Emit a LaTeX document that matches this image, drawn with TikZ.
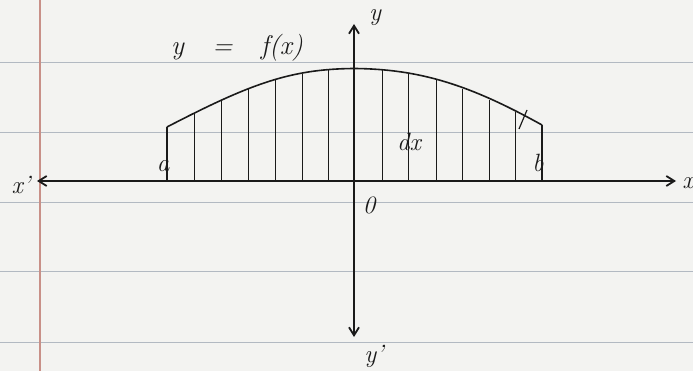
\documentclass[tikz,border=0pt]{standalone}
\usepackage{fontspec}
\usetikzlibrary{arrows.meta}
\definecolor{paper}{HTML}{F3F3F1}
\definecolor{rulecol}{HTML}{B2B9C2}
\definecolor{margincol}{HTML}{C89088}
\definecolor{ink}{HTML}{1A1A1A}
\begin{document}
\begin{tikzpicture}[x=1pt,y=-1pt,
  ruled/.style={rulecol,line width=1pt},
  marginline/.style={margincol,line width=1.2pt},
  axisline/.style={ink,line width=1.8pt,{Straight Barb[length=8pt,width=10pt]}-{Straight Barb[length=8pt,width=10pt]}},
  curveline/.style={ink,line width=1.6pt},
  stripline/.style={ink,line width=1pt},
  edgeline/.style={ink,line width=1.6pt},
  lab/.style={ink,font=\fontsize{25}{28}\selectfont\itshape,inner sep=0pt}]
\useasboundingbox (0,0) rectangle (693,371);
\fill[paper] (0,0) rectangle (693,371);
\foreach \yy in {63,133,203,272,342} \draw[ruled] (0,\yy) -- (693,\yy);
\draw[marginline] (40,0) -- (40,371);
% axes
\coordinate (xleft) at (37,181);
\coordinate (xright) at (676,181);
\coordinate (ytop) at (354,24);
\coordinate (ybot) at (354,337);
% strips
\foreach \x/\y [count=\i] in {167/127,194/113,221/100,248/89,275/80,302/74,328/70,382/70,408/74,436/80,462/89,489/100,515/112,542/125}{
  \coordinate (t\i) at (\x,\y);
  \coordinate (f\i) at (\x,181);
  \draw[stripline] (t\i) -- (f\i);
}
\draw[edgeline] (t1) -- (f1);
\draw[edgeline] (t14) -- (f14);
\draw[curveline] (167,127) .. controls (250,84) and (290,69) .. (354,68.5) .. controls (420,69) and (470,85) .. (542,125);
\draw[axisline] (xleft) -- (xright);
\draw[axisline] (ybot) -- (ytop);
% small tick mark
\coordinate (m1) at (519,129);
\coordinate (m2) at (527,110);
\draw[ink,line width=1.2pt] (m1) -- (m2);
% labels
\node[lab] (xp) at (21,185) {x'};
\node[lab] (xq) at (688,183) {x};
\node[lab] (yl) at (375,18) {y};
\node[lab] (yp) at (374,356) {y'};
\node[lab] (o) at (369,205) {0};
\node[lab] (a) at (163,166) {a};
\node[lab] (b) at (538,163) {b};
\node[lab] (dx) at (409,142) {dx};
\node[lab,font=\fontsize{27}{30}\selectfont\itshape] (eq) at (237,48) {y\ \ \ =\ \ \ f(x)};
\end{tikzpicture}
\end{document}
